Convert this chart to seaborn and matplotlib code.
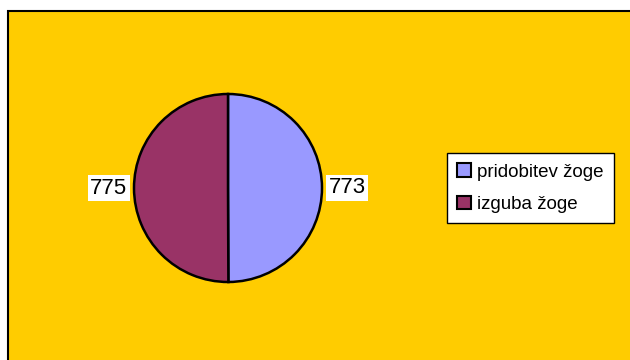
import matplotlib
matplotlib.use("Agg")
import matplotlib.pyplot as plt
import seaborn as sns
from matplotlib.patches import Rectangle, Patch

categories = ["pridobitev žoge", "izguba žoge"]
values = [773, 775]
colors = ["#9999FF", "#993366"]

sns.set_style("white")
plt.rcParams['font.family'] = ['Liberation Sans', 'DejaVu Sans']
plt.rcParams['text.color'] = 'black'

W, H = 630, 360
fig = plt.figure(figsize=(W / 100, H / 100), dpi=100)
fig.patch.set_facecolor("white")

# yellow chart area with black border (right/bottom cut off)
bg = Rectangle((8 / W, -0.05), 1.1, 1 - 11 / H + 0.05,
               transform=fig.transFigure, facecolor="#FFCC00",
               edgecolor="black", linewidth=1.5, zorder=-10)
fig.patches.append(bg)

cx, cy, r = 228, 188, 94
ax = fig.add_axes([(cx - r) / W, (H - cy - r) / H, 2 * r / W, 2 * r / H])
ax.set_zorder(5)
ax.set_facecolor("none")
wedges, texts = ax.pie(values, labels=[str(v) for v in values], colors=colors,
                       startangle=90, counterclock=False, labeldistance=1.07,
                       wedgeprops=dict(edgecolor="black", linewidth=1.8),
                       textprops=dict(fontsize=16, color="black",
                                      bbox=dict(facecolor="white", edgecolor="none", pad=2)))
ax.set_xlim(-1, 1)
ax.set_ylim(-1, 1)
ax.set_aspect("equal")
ax.axis("off")

handles = [Patch(facecolor=c, edgecolor="black", linewidth=1.5) for c in colors]
leg = fig.legend(handles, categories, loc="upper left",
                 bbox_to_anchor=(447 / W, 1 - 153 / H), fontsize=13.5,
                 frameon=True, fancybox=False, framealpha=1,
                 edgecolor="black", facecolor="white",
                 handlelength=0.75, handleheight=0.75, handletextpad=0.3,
                 borderpad=0.55, labelspacing=0.8, borderaxespad=0)
leg.get_frame().set_linewidth(1.0)
leg.set_zorder(6)
for t in leg.get_texts():
    t.set_color("black")

fig.savefig("out.png", dpi=100)
